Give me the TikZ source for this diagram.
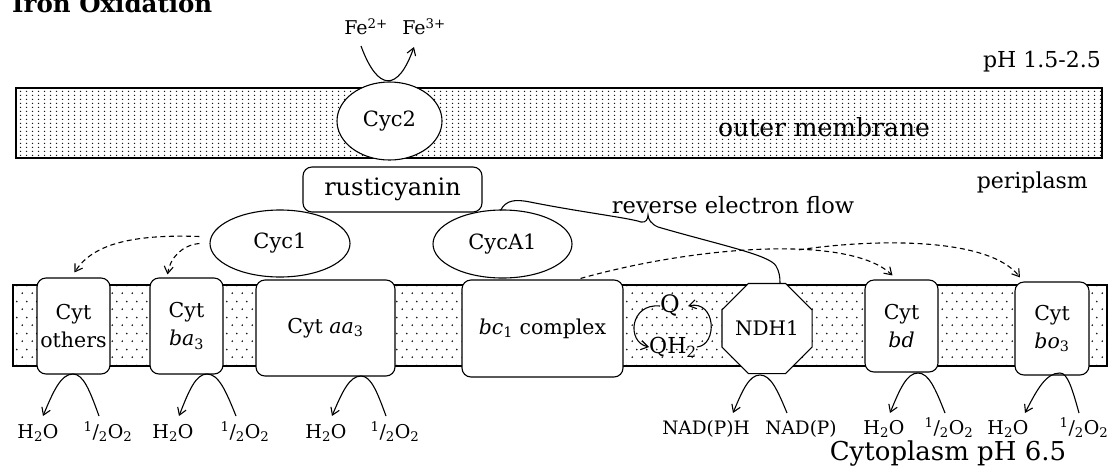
\documentclass[tikz,border=0pt]{standalone}
\usepackage{fontspec}
\setmainfont{DejaVu Serif}
\usetikzlibrary{shapes.geometric,arrows.meta,patterns.meta,calc}
\tikzdeclarepattern{
  name=omdots,
  type=uncolored,
  bottom left={(0pt,0pt)},
  top right={(6pt,4pt)},
  tile size={(6pt,4pt)},
  code={\fill (3pt,2pt) circle (0.85pt);}
}
\tikzdeclarepattern{
  name=imdots,
  type=uncolored,
  bottom left={(0pt,0pt)},
  top right={(10pt,16pt)},
  tile size={(10pt,16pt)},
  code={\fill (2.5pt,4pt) circle (1pt); \fill (7.5pt,12pt) circle (1pt);}
}
\newcommand\redoxarc[5]{%
  \draw[arr] (#4,#5) .. controls ({#4-0.35*(#4-#1)},{#5-0.6*(#5-#2)}) and ({#1+0.4*(#4-#1)},#2) .. (#1,#2)
    .. controls ({#1-0.4*(#1-#3)},#2) and ({#3+0.35*(#1-#3)},{#5-0.6*(#5-#2)}) .. (#3,#5);}
\begin{document}
\begin{tikzpicture}[x=1pt,y=-1pt,
  lw/.style={line width=1.1pt},
  small/.style={inner sep=0pt, anchor=base, font=\fontsize{19}{22}\selectfont},
  cbox/.style={draw, fill=white, rounded corners=9pt, line width=1.1pt, inner sep=0pt, align=center, font=\fontsize{20.5}{28}\selectfont},
  oval/.style={draw, fill=white, ellipse, line width=1.1pt, inner sep=0pt, font=\fontsize{21}{24}\selectfont},
  arr/.style={line width=1.1pt, -{Straight Barb[length=7pt,width=9pt]}},
  dasharr/.style={arr, dash pattern=on 5pt off 3.5pt},
  memb/.style={draw, line width=1.1pt, inner sep=0pt, pattern color=black!90}
]
\useasboundingbox (0,0) rectangle (1116,472);

% title
\node[anchor=base west, inner sep=0pt, font=\fontsize{24.5}{26}\selectfont\bfseries] (title) at (12,12) {Iron Oxidation};

% membranes
\node[memb, pattern=omdots, minimum width=1086pt, minimum height=70pt] (om) at (559,123) {};
\node[memb, pattern=imdots, minimum width=1094pt, minimum height=81pt] (im) at (560,325.5) {};
\node[inner sep=0pt, font=\fontsize{25}{28}\selectfont] (omtext) at (824,127) {outer membrane};

% labels
\node[inner sep=0pt, font=\fontsize{22}{24}\selectfont, anchor=east] (ph1) at (1101,62) {pH 1.5-2.5};
\node[inner sep=0pt, font=\fontsize{22}{24}\selectfont, anchor=east] (peri) at (1088,182) {periplasm};
\node[inner sep=0pt, font=\fontsize{22.5}{24}\selectfont] (rev) at (733,205) {reverse electron flow};
\node[inner sep=0pt, anchor=base, font=\fontsize{26}{28}\selectfont] (cyto) at (948,460) {Cytoplasm pH 6.5};

% Fe
\node[inner sep=0pt, font=\fontsize{19}{20}\selectfont] (fe2) at (366,27) {Fe\textsuperscript{2+}};
\node[inner sep=0pt, font=\fontsize{19}{20}\selectfont] (fe3) at (424,27) {Fe\textsuperscript{3+}};
\coordinate (feL) at (361,46);
\coordinate (feR) at (414,47);

% proteins
\node[oval, minimum width=105pt, minimum height=78pt] (cyc2) at (389.5,121) {Cyc2};
\node[cbox, minimum width=179pt, minimum height=45pt, font=\fontsize{24}{26}\selectfont] (rusti) at (392.5,189.5) {rusticyanin};
\node[oval, minimum width=140pt, minimum height=67pt] (cyc1) at (280,243.5) {Cyc1};
\node[oval, minimum width=139pt, minimum height=68pt] (cyca1) at (502.5,244) {CycA1};

\node[cbox, minimum width=73pt, minimum height=96pt] (others) at (73.5,326) {Cyt\\others};
\node[cbox, minimum width=73pt, minimum height=96pt] (ba3) at (186.5,326) {Cyt\\\textit{ba}\textsubscript{3}};
\node[cbox, minimum width=139pt, minimum height=96pt] (aa3) at (325.5,328) {Cyt \textit{aa}\textsubscript{3}};
\node[cbox, minimum width=161pt, minimum height=97pt] (bc1) at (542.5,328.5) {\textit{bc}\textsubscript{1} complex};
\node[draw, fill=white, regular polygon, regular polygon sides=8, minimum size=97.5pt, inner sep=0pt, line width=1.1pt, font=\fontsize{20}{24}\selectfont] (ndh) at (767,328.5) {NDH1};
\node[cbox, minimum width=73pt, minimum height=92pt] (bd) at (901.5,326) {Cyt\\\textit{bd}};
\node[cbox, minimum width=74pt, minimum height=93pt] (bo3) at (1052,328.5) {Cyt\\\textit{bo}\textsubscript{3}};

% Q cycle
\node[inner sep=0pt, font=\fontsize{24}{24}\selectfont] (q) at (670,306) {Q};
\node[inner sep=0pt, font=\fontsize{22}{24}\selectfont] (qh2) at (673,347) {QH\textsubscript{2}};
\draw[arr] (q.west) .. controls (630,303) and (626,342) .. (qh2.west);
\draw[arr] (qh2.east) .. controls (718,345) and (716,300) .. ([xshift=8pt]q.east);

% Fe arrow
\draw[arr] (feL) .. controls (378,92) and (398,92) .. (feR);

% dashed arrows from Cyc1
\draw[dasharr] ([xshift=-10pt,yshift=7pt]cyc1.west) .. controls (130,234) and (92,245) .. ([xshift=1pt,yshift=5pt]others.north);
\draw[dasharr] ([xshift=-10pt]cyc1.west) .. controls (182,245) and (170,258) .. ([xshift=-19pt,yshift=3pt]ba3.north);

% dashed arrows from bc1
\coordinate (split) at (799,249.8);
\draw[dasharr] ([xshift=38pt,yshift=1pt]bc1.north) .. controls (700,245) and (850,235) .. ([xshift=-9pt,yshift=4pt]bd.north);
\draw[dasharr] (split) .. controls (880,238) and (990,238) .. ([xshift=-32pt,yshift=4pt]bo3.north);

% reverse electron flow brace
\coordinate (ndhtop) at ([xshift=13pt]ndh.north);
\draw[lw] ([xshift=-2pt,yshift=-1pt]cyca1.north) .. controls (506,200) and (515,199) .. (530,202)
  .. controls (580,212) and (630,218) .. (641,222)
  .. controls (646,223) and (648,219) .. (648,215)
  .. controls (648,219) and (651,224) .. (658,227)
  .. controls (720,245) and (770,255) .. (776,266)
  .. controls (779,271) and (780,276) .. (ndhtop);

% bottom products
\node[small] (h2oA) at (38,438) {H\textsubscript{2}O};
\node[small] (o2A) at (108,438) {\textsuperscript{1}/\textsubscript{2}O\textsubscript{2}};
\node[small] (h2oB) at (173,438) {H\textsubscript{2}O};
\node[small] (o2B) at (245,438) {\textsuperscript{1}/\textsubscript{2}O\textsubscript{2}};
\node[small] (h2oC) at (326,438) {H\textsubscript{2}O};
\node[small] (o2C) at (395,438) {\textsuperscript{1}/\textsubscript{2}O\textsubscript{2}};
\node[inner sep=0pt, anchor=base, font=\fontsize{18.5}{20}\selectfont] (nadph) at (706,434) {NAD(P)H};
\node[inner sep=0pt, anchor=base, font=\fontsize{18.5}{20}\selectfont] (nadp) at (801,434) {NAD(P)};
\node[small] (h2oD) at (884,434) {H\textsubscript{2}O};
\node[small] (o2D) at (949,434) {\textsuperscript{1}/\textsubscript{2}O\textsubscript{2}};
\node[small] (h2oE) at (1008,434) {H\textsubscript{2}O};
\node[small] (o2E) at (1084,434) {\textsuperscript{1}/\textsubscript{2}O\textsubscript{2}};

\redoxarc{73}{374}{43}{99}{416}
\redoxarc{207}{374}{179}{236}{416}
\redoxarc{361}{376}{332}{386}{416}
\redoxarc{760}{375}{733}{787}{413}
\redoxarc{918}{373}{890}{945}{413}
\redoxarc{1060}{373}{1025}{1079}{413}
\end{tikzpicture}
\end{document}
